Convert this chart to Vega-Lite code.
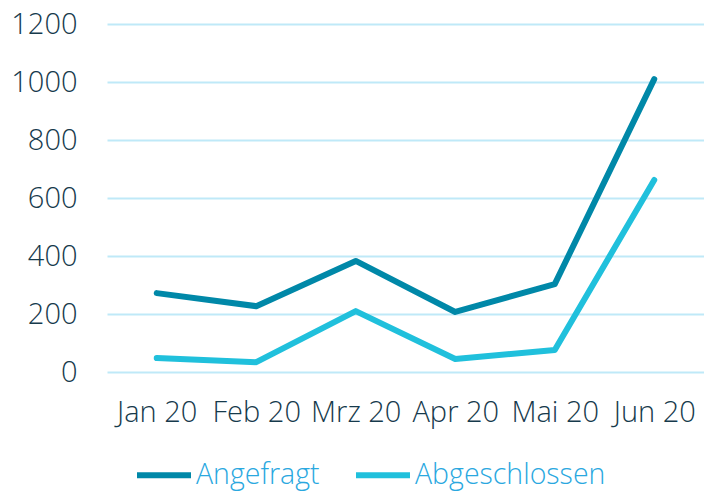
{
  "$schema": "https://vega.github.io/schema/vega-lite/v6.json",
  "width": 597,
  "height": 348,
  "autosize": {"type": "none"},
  "padding": {"left": 107, "top": 24, "right": 0, "bottom": 120},
  "background": "white",
  "config": {
    "view": {"stroke": null},
    "font": "Open Sans"
  },
  "data": {
    "values": [
      {"month": "Jan 20", "series": "Angefragt", "value": 272},
      {"month": "Feb 20", "series": "Angefragt", "value": 227},
      {"month": "Mrz 20", "series": "Angefragt", "value": 383},
      {"month": "Apr 20", "series": "Angefragt", "value": 207},
      {"month": "Mai 20", "series": "Angefragt", "value": 303},
      {"month": "Jun 20", "series": "Angefragt", "value": 1010},
      {"month": "Jan 20", "series": "Abgeschlossen", "value": 48},
      {"month": "Feb 20", "series": "Abgeschlossen", "value": 34},
      {"month": "Mrz 20", "series": "Abgeschlossen", "value": 210},
      {"month": "Apr 20", "series": "Abgeschlossen", "value": 45},
      {"month": "Mai 20", "series": "Abgeschlossen", "value": 76},
      {"month": "Jun 20", "series": "Abgeschlossen", "value": 662}
    ]
  },
  "mark": {"type": "line", "strokeWidth": 6, "strokeCap": "round", "strokeJoin": "round"},
  "encoding": {
    "x": {
      "field": "month",
      "type": "ordinal",
      "sort": null,
      "scale": {"type": "point", "padding": 0.5},
      "axis": {
        "title": null,
        "domain": false,
        "ticks": false,
        "labelAngle": 0,
        "labelFontSize": 29,
        "labelFontWeight": 300,
        "labelColor": "#163A4C",
        "labelPadding": 26
      }
    },
    "y": {
      "field": "value",
      "type": "quantitative",
      "scale": {"domain": [0, 1200]},
      "axis": {
        "title": null,
        "values": [0, 200, 400, 600, 800, 1000, 1200],
        "format": "d",
        "domain": false,
        "ticks": false,
        "grid": true,
        "gridColor": "#BFE9F8",
        "gridWidth": 2,
        "labelFontSize": 29,
        "labelFontWeight": 300,
        "labelColor": "#163A4C",
        "labelPadding": 30
      }
    },
    "color": {
      "field": "series",
      "type": "nominal",
      "sort": ["Angefragt", "Abgeschlossen"],
      "scale": {"domain": ["Angefragt", "Abgeschlossen"], "range": ["#0088A8", "#20C0DC"]},
      "legend": {
        "title": null,
        "orient": "none",
        "direction": "horizontal",
        "legendX": 27,
        "legendY": 421,
        "symbolType": "stroke",
        "symbolSize": 2916,
        "symbolStrokeWidth": 6,
        "labelFontSize": 28.5,
        "labelFontWeight": 300,
        "labelColor": "#2AA8DF",
        "labelLimit": 400,
        "labelOffset": 2,
        "columnPadding": 24
      }
    }
  }
}
